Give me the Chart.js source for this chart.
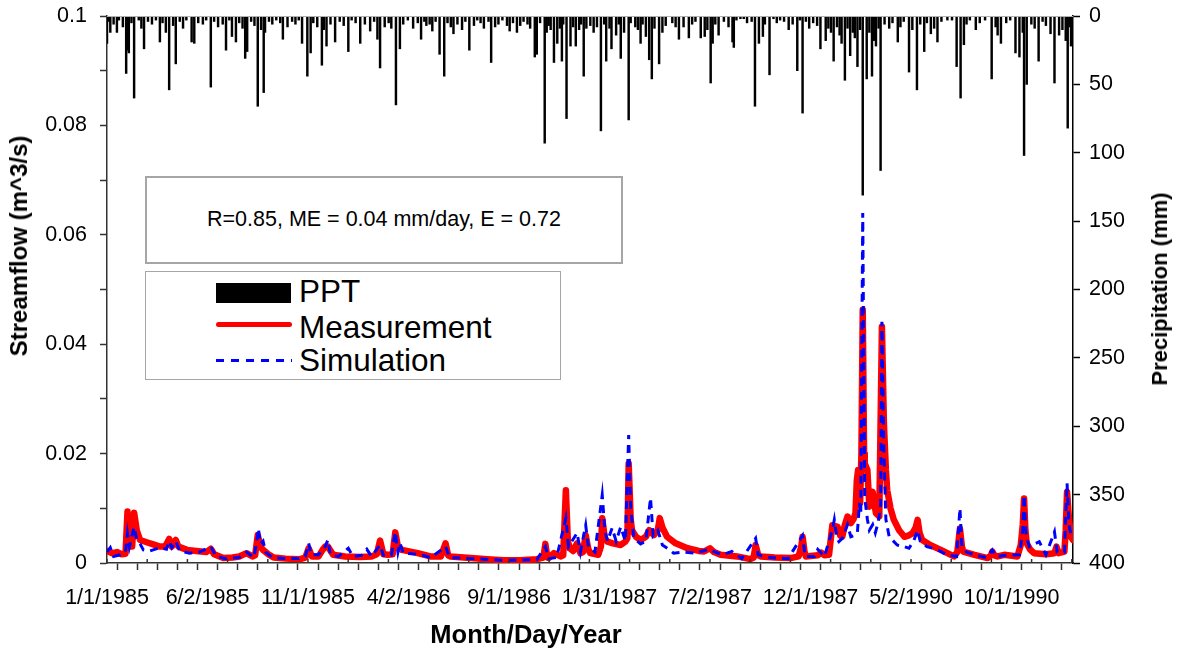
<!DOCTYPE html>
<html>
<head>
<meta charset="utf-8">
<script src="https://cdn.jsdelivr.net/npm/chart.js@4.4.1/dist/chart.umd.min.js"></script>
<style>
    body { margin: 0; background: #fff; font-family: 'Liberation Sans', Arial, sans-serif; }
    #wrap { position: relative; width: 1182px; height: 650px; overflow: hidden; }
    #chart { position: absolute; left: 0; top: 0; }
    .box { position: absolute; background: #fff; box-sizing: border-box; }
    .txt { position: absolute; white-space: nowrap; color: #000; line-height: 1; }
    .title { position: absolute; white-space: nowrap; font-weight: bold; color: #000; line-height: 1; }
</style>
</head>
<body>
<div id="wrap">
    <canvas id="chart" width="1182" height="650"></canvas>

    <div class="box" style="left:145px; top:176px; width:478px; height:88px; border:2px solid #a6a6a6;"></div>
    <div class="txt" style="left:145px; top:209px; width:478px; text-align:center; font-size:21.5px;">R=0.85, ME = 0.04 mm/day, E = 0.72</div>

    <div class="box" style="left:145px; top:271px; width:416px; height:109px; border:1.5px solid #a6a6a6;"></div>
    <div class="box" style="left:216px; top:283px; width:75px; height:20px; background:#000;"></div>
    <div class="box" style="left:216px; top:322px; width:76px; height:5px; background:#ff0000; border-radius:3px;"></div>
    <div class="box" style="left:216px; top:359px; width:76px; height:3px; background:repeating-linear-gradient(to right, #0000ff 0 8px, transparent 8px 15px);"></div>
    <div class="txt" style="left:299px; top:276px; font-size:31.5px;">PPT</div>
    <div class="txt" style="left:299px; top:312px; font-size:31.5px;">Measurement</div>
    <div class="txt" style="left:299px; top:345px; font-size:31.5px;">Simulation</div>

    <div class="title" style="left:526px; top:622px; font-size:25.5px; transform:translateX(-50%);">Month/Day/Year</div>
    <div class="title" style="left:19px; top:246px; font-size:24px; transform:translate(-50%,-50%) rotate(-90deg);">Streamflow (m^3/s)</div>
    <div class="title" style="left:1160px; top:289px; font-size:22px; transform:translate(-50%,-50%) rotate(-90deg);">Precipitation (mm)</div>
</div>

<script>
// --- DATA (x = day counted from 1/1/1985 along the plotted record) ---
const xLabels = ['1/1/1985', '6/2/1985', '11/1/1985', '4/2/1986', '9/1/1986',
    '1/31/1987', '7/2/1987', '12/1/1987', '5/2/1990', '10/1/1990'];
const labelStep = 152;
const xMax = 1461;
const flowTicks = [0, 0.02, 0.04, 0.06, 0.08, 0.1];
const pptTicks = [0, 50, 100, 150, 200, 250, 300, 350, 400];

// measured streamflow, m^3/s
const measured = [
    [0, 0.0022], [8, 0.0018], [15, 0.0020], [22, 0.0016], [28, 0.0017], [31, 0.0094], [34, 0.0030],
    [38, 0.0030], [41, 0.0092], [45, 0.0060], [50, 0.0042], [60, 0.0038], [70, 0.0034], [80, 0.0030],
    [88, 0.0030], [94, 0.0044], [98, 0.0030], [104, 0.0042], [108, 0.0030], [121, 0.0024], [135, 0.0022],
    [150, 0.0020], [157, 0.0026], [162, 0.0016], [176, 0.0009], [190, 0.0010], [200, 0.0012], [211, 0.0018],
    [220, 0.0012], [224, 0.0014], [228, 0.0051], [232, 0.0030], [236, 0.0024], [244, 0.0016], [252, 0.0010],
    [270, 0.0008], [292, 0.0007], [300, 0.0010], [305, 0.0027], [310, 0.0012], [320, 0.0012], [326, 0.0024],
    [330, 0.0030], [334, 0.0030], [342, 0.0015], [360, 0.0012], [383, 0.0011], [400, 0.0012], [408, 0.0016],
    [413, 0.0041], [418, 0.0016], [425, 0.0015], [432, 0.0016], [436, 0.0056], [440, 0.0030], [446, 0.0024],
    [470, 0.0018], [489, 0.0012], [505, 0.0012], [512, 0.0036], [516, 0.0014], [519, 0.0012], [550, 0.0009],
    [575, 0.0007], [600, 0.0005], [625, 0.0005], [650, 0.0007], [660, 0.0010], [663, 0.0035], [666, 0.0010],
    [668, 0.0009], [676, 0.0018], [686, 0.0012], [690, 0.0014], [694, 0.0133], [697, 0.0040], [700, 0.0027],
    [705, 0.0022], [711, 0.0036], [716, 0.0018], [720, 0.0020], [724, 0.0051], [728, 0.0025], [731, 0.0018],
    [743, 0.0015], [747, 0.0030], [749, 0.0082], [753, 0.0045], [757, 0.0039], [765, 0.0036], [777, 0.0033],
    [784, 0.0039], [787, 0.0045], [789, 0.0182], [792, 0.0080], [794, 0.0060], [800, 0.0048], [807, 0.0042],
    [815, 0.0048], [820, 0.0060], [827, 0.0051], [833, 0.0060], [836, 0.0082], [840, 0.0065], [847, 0.0048],
    [860, 0.0036], [878, 0.0027], [895, 0.0022], [903, 0.0021], [912, 0.0027], [918, 0.0020], [928, 0.0015],
    [953, 0.0012], [973, 0.0007], [978, 0.0010], [981, 0.0033], [985, 0.0014], [989, 0.0012], [1010, 0.0010],
    [1034, 0.0009], [1046, 0.0012], [1050, 0.0030], [1052, 0.0048], [1055, 0.0020], [1057, 0.0012], [1075, 0.0014],
    [1080, 0.0019], [1085, 0.0014], [1092, 0.0015], [1097, 0.0069], [1100, 0.0068], [1105, 0.0066], [1109, 0.0050],
    [1112, 0.0048], [1116, 0.0070], [1120, 0.0085], [1125, 0.0073], [1129, 0.0080], [1132, 0.0091], [1134, 0.0150],
    [1136, 0.0170], [1139, 0.0110], [1141, 0.0200], [1143, 0.0463], [1145, 0.0200], [1146, 0.0182], [1150, 0.0170],
    [1153, 0.0103], [1156, 0.0120], [1158, 0.0130], [1161, 0.0105], [1163, 0.0091], [1168, 0.0085], [1172, 0.0432],
    [1175, 0.0255], [1178, 0.0170], [1180, 0.0133], [1185, 0.0100], [1190, 0.0079], [1198, 0.0060], [1206, 0.0048],
    [1212, 0.0050], [1218, 0.0054], [1223, 0.0065], [1226, 0.0079], [1229, 0.0055], [1233, 0.0042], [1245, 0.0033],
    [1261, 0.0024], [1281, 0.0012], [1286, 0.0020], [1290, 0.0063], [1293, 0.0030], [1295, 0.0021], [1312, 0.0015],
    [1332, 0.0009], [1337, 0.0014], [1339, 0.0021], [1342, 0.0014], [1347, 0.0012], [1357, 0.0015], [1377, 0.0012],
    [1382, 0.0033], [1385, 0.0070], [1387, 0.0118], [1389, 0.0060], [1391, 0.0036], [1396, 0.0025], [1402, 0.0018],
    [1420, 0.0016], [1433, 0.0018], [1436, 0.0030], [1439, 0.0018], [1448, 0.0021], [1450, 0.0060], [1452, 0.0130],
    [1455, 0.0080], [1458, 0.0048], [1461, 0.0042]
];

// simulated streamflow, m^3/s
const simulated = [
    [0, 0.0020], [5, 0.0028], [10, 0.0012], [20, 0.0015], [28, 0.0020], [31, 0.0054], [34, 0.0030], [41, 0.0066],
    [45, 0.0042], [50, 0.0035], [55, 0.0024], [65, 0.0022], [80, 0.0028], [90, 0.0025], [94, 0.0040], [98, 0.0028],
    [104, 0.0040], [110, 0.0022], [125, 0.0018], [140, 0.0020], [157, 0.0030], [165, 0.0012], [180, 0.0008],
    [200, 0.0010], [211, 0.0020], [222, 0.0010], [226, 0.0035], [229, 0.0063], [232, 0.0035], [236, 0.0040],
    [240, 0.0020], [250, 0.0010], [270, 0.0008], [290, 0.0008], [300, 0.0012], [305, 0.0036], [309, 0.0015],
    [320, 0.0015], [330, 0.0030], [334, 0.0042], [338, 0.0015], [350, 0.0012], [365, 0.0027], [372, 0.0012],
    [385, 0.0014], [393, 0.0025], [400, 0.0012], [413, 0.0033], [418, 0.0014], [430, 0.0014], [436, 0.0057],
    [440, 0.0020], [443, 0.0037], [448, 0.0018], [470, 0.0016], [490, 0.0010], [512, 0.0030], [518, 0.0010],
    [550, 0.0008], [600, 0.0005], [650, 0.0006], [663, 0.0030], [668, 0.0008], [680, 0.0010], [694, 0.0082],
    [698, 0.0030], [711, 0.0055], [716, 0.0020], [724, 0.0069], [728, 0.0030], [738, 0.0020], [749, 0.0124],
    [753, 0.0060], [757, 0.0040], [764, 0.0064], [770, 0.0040], [777, 0.0066], [784, 0.0040], [789, 0.0234],
    [792, 0.0100], [797, 0.0045], [807, 0.0035], [815, 0.0040], [822, 0.0119], [826, 0.0050], [833, 0.0060],
    [840, 0.0033], [850, 0.0025], [857, 0.0018], [870, 0.0020], [890, 0.0018], [910, 0.0025], [930, 0.0015],
    [945, 0.0021], [960, 0.0008], [981, 0.0045], [985, 0.0015], [1000, 0.0010], [1030, 0.0008], [1052, 0.0050],
    [1056, 0.0012], [1070, 0.0012], [1075, 0.0025], [1085, 0.0012], [1097, 0.0060], [1100, 0.0079], [1104, 0.0045],
    [1107, 0.0039], [1112, 0.0045], [1120, 0.0070], [1125, 0.0048], [1130, 0.0050], [1135, 0.0057], [1138, 0.0110],
    [1140, 0.0090], [1143, 0.0640], [1146, 0.0120], [1150, 0.0080], [1153, 0.0060], [1158, 0.0070], [1162, 0.0055],
    [1166, 0.0073], [1170, 0.0100], [1172, 0.0441], [1175, 0.0200], [1178, 0.0080], [1183, 0.0048], [1195, 0.0033],
    [1205, 0.0030], [1213, 0.0027], [1220, 0.0040], [1226, 0.0060], [1230, 0.0040], [1240, 0.0030], [1255, 0.0025],
    [1270, 0.0015], [1285, 0.0012], [1290, 0.0100], [1293, 0.0030], [1300, 0.0020], [1315, 0.0014], [1330, 0.0010],
    [1339, 0.0024], [1345, 0.0012], [1360, 0.0014], [1380, 0.0015], [1385, 0.0060], [1387, 0.0124], [1390, 0.0050],
    [1395, 0.0030], [1410, 0.0039], [1420, 0.0015], [1433, 0.0057], [1437, 0.0020], [1448, 0.0020], [1452, 0.0146],
    [1455, 0.0070], [1458, 0.0050], [1461, 0.0045]
];

// daily precipitation, mm
const rainfall = [
    [0, 20], [3, 4], [5, 12], [10, 6], [15, 12], [18, 3], [24, 8], [29, 42], [30, 25], [33, 27], [37, 5], [41, 60],
    [48, 3], [52, 9], [56, 24], [62, 4], [68, 6], [74, 3], [80, 19], [84, 5], [89, 12], [94, 54], [100, 7], [104, 35],
    [110, 4], [115, 9], [120, 3], [128, 19], [132, 20], [138, 5], [145, 6], [150, 3], [157, 52], [162, 4], [168, 8],
    [175, 6], [180, 25], [185, 3], [189, 15], [195, 19], [200, 5], [205, 9], [209, 31], [212, 26], [218, 4], [223, 7],
    [228, 66], [233, 10], [237, 56], [239, 12], [245, 4], [250, 6], [256, 3], [262, 5], [266, 17], [273, 8], [280, 4],
    [285, 6], [290, 3], [295, 20], [303, 44], [308, 27], [312, 5], [318, 8], [325, 36], [328, 10], [332, 22], [338, 6],
    [345, 19], [352, 4], [358, 7], [365, 26], [370, 3], [376, 5], [383, 20], [390, 6], [398, 11], [404, 4], [409, 17],
    [413, 38], [420, 8], [426, 5], [430, 9], [437, 65], [443, 24], [448, 6], [455, 3], [463, 9], [470, 5], [475, 17],
    [480, 4], [483, 7], [488, 6], [492, 11], [497, 4], [503, 28], [510, 44], [515, 5], [520, 8], [524, 13], [530, 6],
    [537, 10], [542, 4], [548, 25], [555, 7], [560, 3], [565, 5], [570, 9], [577, 4], [581, 34], [587, 8], [592, 6],
    [598, 3], [605, 7], [609, 11], [614, 5], [620, 12], [625, 7], [630, 4], [636, 6], [640, 9], [647, 30], [650, 28],
    [655, 5], [662, 93], [665, 12], [668, 7], [671, 10], [676, 34], [681, 20], [685, 9], [688, 33], [690, 6], [695, 75],
    [701, 22], [705, 8], [709, 22], [714, 10], [717, 6], [721, 44], [725, 9], [731, 7], [736, 12], [741, 8], [747, 84],
    [752, 6], [755, 33], [760, 9], [763, 24], [770, 14], [774, 6], [777, 31], [782, 12], [789, 76], [792, 5], [799, 8],
    [803, 10], [807, 20], [810, 6], [815, 15], [820, 32], [824, 46], [828, 9], [835, 35], [840, 12], [845, 7], [855, 5],
    [860, 8], [865, 17], [872, 8], [880, 16], [885, 6], [890, 4], [898, 16], [904, 15], [908, 10], [913, 49], [916, 20],
    [920, 6], [925, 14], [933, 4], [940, 8], [946, 19], [948, 23], [952, 3], [958, 2], [963, 2], [968, 5], [975, 4],
    [980, 66], [986, 20], [992, 15], [995, 6], [1002, 43], [1008, 2], [1013, 5], [1018, 3], [1024, 4], [1031, 10],
    [1037, 6], [1044, 40], [1048, 3], [1052, 71], [1057, 4], [1062, 9], [1068, 5], [1074, 7], [1079, 24], [1087, 18],
    [1091, 9], [1095, 12], [1099, 33], [1104, 8], [1108, 14], [1111, 20], [1116, 47], [1120, 9], [1124, 29], [1128, 12],
    [1131, 16], [1135, 37], [1139, 10], [1143, 131], [1149, 46], [1153, 12], [1157, 44], [1160, 18], [1163, 22],
    [1167, 9], [1170, 113], [1176, 6], [1183, 9], [1188, 5], [1196, 19], [1200, 8], [1205, 4], [1213, 41], [1218, 10],
    [1225, 54], [1230, 6], [1236, 26], [1240, 5], [1246, 13], [1251, 9], [1256, 19], [1262, 4], [1271, 3], [1278, 3],
    [1285, 37], [1291, 60], [1296, 21], [1300, 6], [1305, 3], [1314, 10], [1320, 5], [1328, 3], [1338, 46], [1344, 8],
    [1347, 14], [1352, 20], [1360, 5], [1366, 3], [1374, 27], [1380, 30], [1385, 12], [1387, 102], [1391, 50], [1398, 6],
    [1403, 9], [1409, 33], [1415, 4], [1420, 7], [1427, 13], [1433, 49], [1440, 14], [1445, 10], [1450, 18], [1453, 82],
    [1456, 8], [1458, 22]
];

// --- HELPERS ---
const toPoints = rows => rows.map(([x, y]) => ({ x: x, y: y }));
const FONT = "'Liberation Sans', Arial, sans-serif";

// top frame line + the longer x ticks that cross the axis
const framePlugin = {
    id: 'frame',
    afterDraw(chart) {
        const { ctx, chartArea: a, scales: { x } } = chart;
        ctx.save();
        ctx.strokeStyle = '#b0b0b0';
        ctx.lineWidth = 1;
        ctx.beginPath();
        ctx.moveTo(a.left, a.top + 0.5);
        ctx.lineTo(a.right, a.top + 0.5);
        ctx.stroke();
        ctx.strokeStyle = '#333';
        ctx.lineWidth = 1.5;
        x.ticks.forEach((t, i) => {
            if (i % 2) return;
            const px = x.getPixelForValue(t.value);
            ctx.beginPath();
            ctx.moveTo(px, a.bottom - 4);
            ctx.lineTo(px, a.bottom);
            ctx.stroke();
        });
        ctx.restore();
    }
};

// vertical scales: fixed width, no extra room reserved for half tick labels
const fixWidth = w => s => { s.width = w; s.paddingTop = 0; s.paddingBottom = 0; };

document.addEventListener('DOMContentLoaded', function () {
    const ctx = document.getElementById('chart');

    new Chart(ctx, {
        type: 'line',
        data: {
            datasets: [
                {
                    label: 'Simulation', type: 'line', data: toPoints(simulated), yAxisID: 'y', order: 0,
                    borderColor: '#0000ff', borderWidth: 3, borderDash: [8, 6], pointRadius: 0, tension: 0
                },
                {
                    label: 'Measurement', type: 'line', data: toPoints(measured), yAxisID: 'y', order: 1,
                    borderColor: '#ff0000', borderWidth: 6.5, pointRadius: 0, tension: 0,
                    borderJoinStyle: 'round', borderCapStyle: 'round'
                },
                {
                    label: 'PPT', type: 'bar', data: toPoints(rainfall), yAxisID: 'y2', order: 2,
                    backgroundColor: '#000', barThickness: 1.8, borderWidth: 0
                }
            ]
        },
        options: {
            responsive: false,
            animation: false,
            layout: { padding: { top: 16, left: 0, right: 0, bottom: 0 } },
            plugins: { legend: { display: false }, tooltip: { enabled: false } },
            scales: {
                x: {
                    type: 'linear', min: 0, max: xMax, offset: false,
                    afterBuildTicks: s => {
                        const step = labelStep / 5;
                        const t = [];
                        for (let i = 0; i * step <= xMax; i++) t.push({ value: i * step });
                        s.ticks = t;
                    },
                    afterFit: s => { s.height = 87; s.paddingLeft = 0; s.paddingRight = 0; },
                    ticks: {
                        autoSkip: false, maxRotation: 0, minRotation: 0, padding: 15,
                        color: '#000', font: { family: FONT, size: 21.5 },
                        callback: (v, i) => (i % 5 === 0 && xLabels[i / 5]) ? xLabels[i / 5] : ''
                    },
                    grid: { drawOnChartArea: false, drawTicks: true, tickLength: 7, tickColor: '#333', tickWidth: 1.5 },
                    border: { display: true, color: '#333', width: 1.5 }
                },
                y: {
                    position: 'left', min: 0, max: 0.1,
                    afterBuildTicks: s => {
                        const t = [];
                        for (let i = 0; i <= 20; i++) t.push({ value: i * 5 / 1000 });
                        s.ticks = t;
                    },
                    afterFit: fixWidth(107),
                    ticks: {
                        padding: 13, color: '#000', font: { family: FONT, size: 21.5 },
                        callback: v => flowTicks.find(f => Math.abs(f - v) < 1e-9) !== undefined ? String(+v.toFixed(3)) : ''
                    },
                    grid: { drawOnChartArea: false, drawTicks: true, tickLength: 7, tickColor: '#333', tickWidth: 1.5 },
                    border: { display: true, color: '#333', width: 1.5 }
                },
                y2: {
                    position: 'right', min: 0, max: 400, reverse: true,
                    afterBuildTicks: s => { s.ticks = pptTicks.map(v => ({ value: v })); },
                    afterFit: fixWidth(109),
                    ticks: { padding: 9, color: '#000', font: { family: FONT, size: 21.5 } },
                    grid: { drawOnChartArea: false, drawTicks: true, tickLength: 7, tickColor: '#000', tickWidth: 1.5 },
                    border: { display: true, color: '#000', width: 1.5 }
                }
            }
        },
        plugins: [framePlugin]
    });
});
</script>
</body>
</html>
